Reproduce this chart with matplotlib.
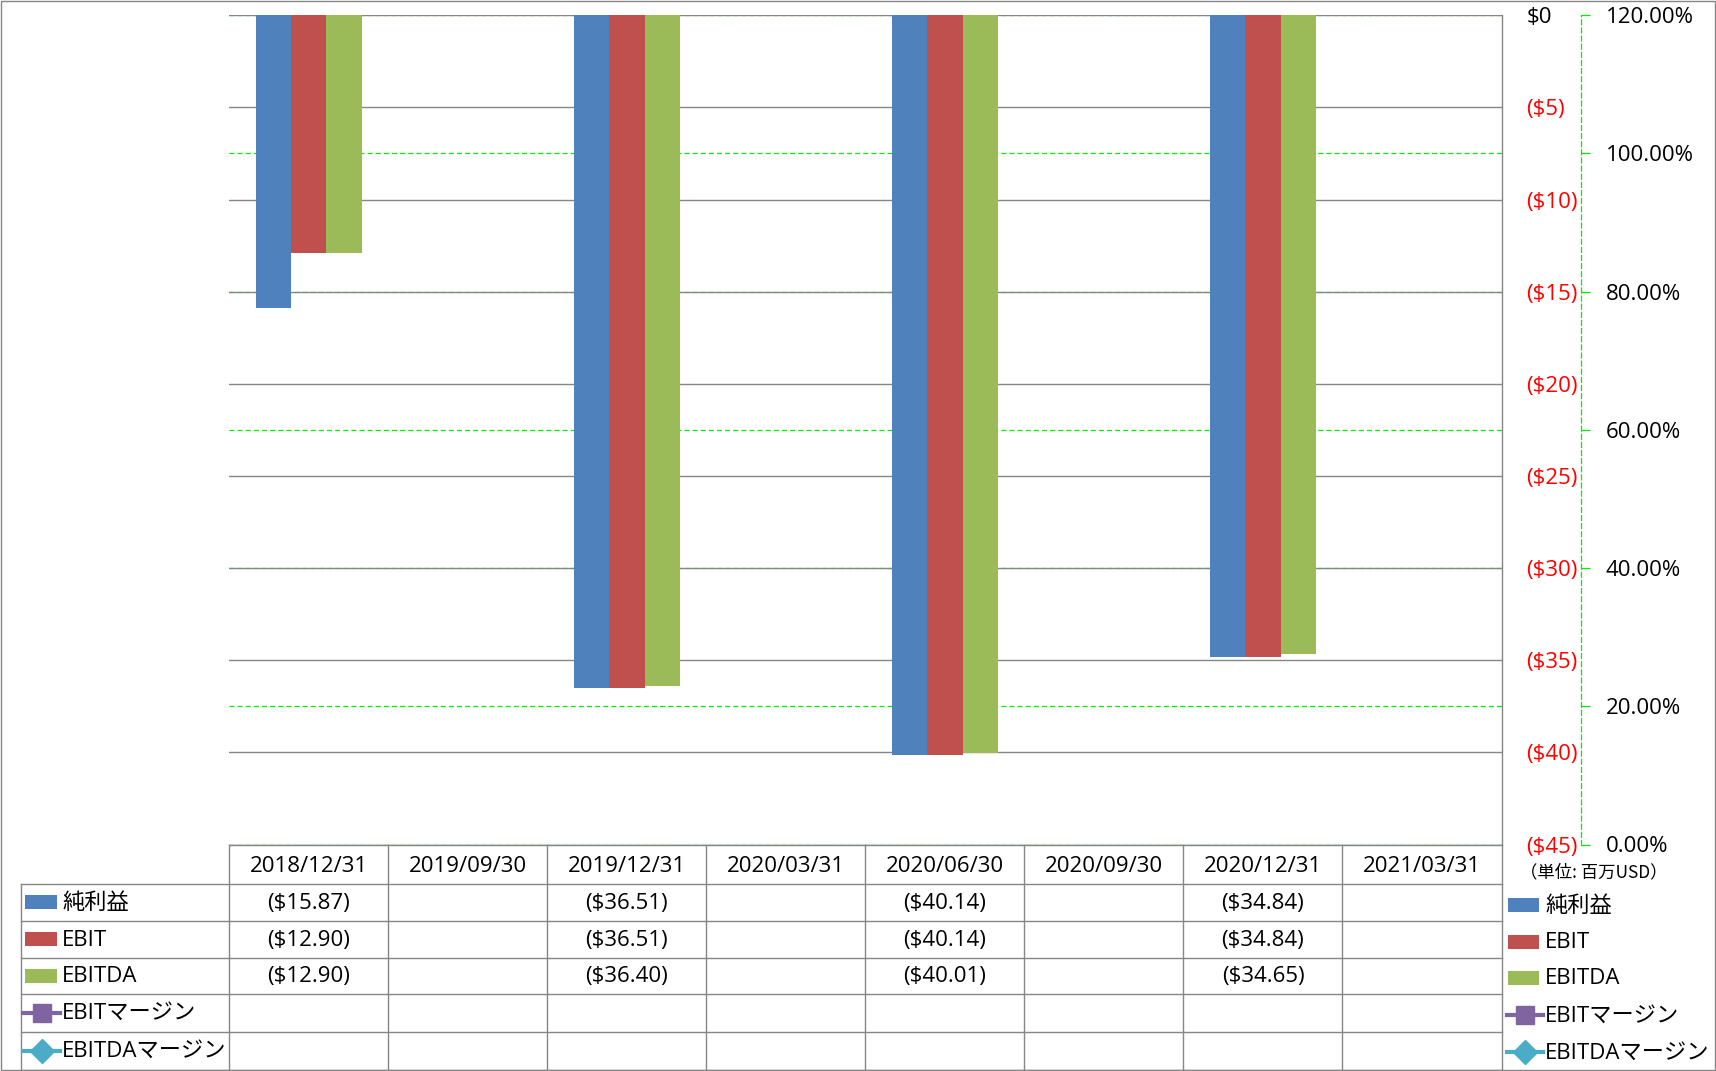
#純利益・EBIT・EBITDA の推移（データテーブル付き棒グラフ）

import numpy as np
import matplotlib
matplotlib.use('Agg')
import matplotlib.pyplot as plt
from matplotlib.patches import Rectangle
from matplotlib.lines import Line2D

plt.rcParams['font.family'] = ['Open Sans', 'Noto Sans CJK JP', 'DejaVu Sans']

#データ（単位: 百万USD）
periods = ['2018/12/31', '2019/09/30', '2019/12/31', '2020/03/31',
           '2020/06/30', '2020/09/30', '2020/12/31', '2021/03/31']
net_income = [-15.87, np.nan, -36.51, np.nan, -40.14, np.nan, -34.84, np.nan]
ebit = [-12.90, np.nan, -36.51, np.nan, -40.14, np.nan, -34.84, np.nan]
ebitda = [-12.90, np.nan, -36.40, np.nan, -40.01, np.nan, -34.65, np.nan]
ebit_margin = [np.nan] * 8
ebitda_margin = [np.nan] * 8

series_names = ['純利益', 'EBIT', 'EBITDA', 'EBITマージン', 'EBITDAマージン']
bar_colors = ['#4F81BD', '#C0504D', '#9BBB59']
line_colors = ['#8064A2', '#4BACC6']

y_ticks = list(range(0, -50, -5))
pct_ticks = [0.0, 0.2, 0.4, 0.6, 0.8, 1.0, 1.2]

#レイアウト（ピクセル）
W, H = 1716, 1071
px_l, px_r = 229.3, 1501.5
px_t, px_b = 15.3, 844.5
row_y = [844.5, 883.5, 921.0, 957.5, 993.5, 1031.5, 1070.0]
lab_x = 20.7
grey = '#868686'
green = '#00EE00'
fs = 16

fig = plt.figure(figsize=(W / 100, H / 100), dpi=100)
ax = fig.add_axes([px_l / W, (H - px_b) / H, (px_r - px_l) / W, (px_b - px_t) / H])
ax2 = ax.twinx()
ax.set_zorder(ax2.get_zorder() + 1)
ax.patch.set_visible(False)

x = np.arange(len(periods))
bw = 0.222
for k, vals in enumerate([net_income, ebit, ebitda]):
    ax.bar(x + (k - 1) * bw, vals, bw, color=bar_colors[k], zorder=3)
for k, vals in enumerate([ebit_margin, ebitda_margin]):
    ax2.plot(x, vals, color=line_colors[k])

ax.set_xlim(-0.5, len(periods) - 0.5)
ax.set_ylim(-45, 0)
ax.set_xticks([])
ax.set_axisbelow(True)
ax.grid(True, axis='y', color=grey, lw=1.0)
ax.yaxis.tick_right()
ax.set_yticks(y_ticks, labels=['$0' if v == 0 else '(${})'.format(-v) for v in y_ticks])
ax.tick_params(axis='y', length=0, pad=18, labelsize=fs)
for lbl in ax.get_yticklabels():
    lbl.set_color('red' if lbl.get_text().startswith('(') else 'black')
for s in ax.spines.values():
    s.set_visible(False)

ax2.set_ylim(0, 1.2)
ax2.set_yticks(pct_ticks, labels=['{:.2f}%'.format(p * 100) for p in pct_ticks])
ax2.grid(True, axis='y', color=green, lw=0.9, linestyle=(0, (4, 2.5)))
ax2.tick_params(axis='y', length=6.5, width=0.9, color=green, pad=11.5, labelsize=fs)
for s in ['top', 'left', 'bottom']:
    ax2.spines[s].set_visible(False)
ax2.spines['right'].set_position(('outward', 57))
ax2.spines['right'].set_color(green)
ax2.spines['right'].set_linestyle((0, (4, 2.5)))
ax2.spines['right'].set_linewidth(0.9)

#データテーブルと凡例
ov = fig.add_axes([0, 0, 1, 1])
ov.set_xlim(0, W)
ov.set_ylim(H, 0)
ov.axis('off')
ov.patch.set_visible(False)

cw = (px_r - px_l) / len(periods)
ov.plot([px_l, px_r], [row_y[0]] * 2, color=grey, lw=1)
for y in row_y[1:]:
    ov.plot([lab_x, px_r], [y, y], color=grey, lw=1)
ov.plot([lab_x, lab_x], [row_y[1], H], color=grey, lw=1)
for i in range(len(periods)):
    ov.plot([px_l + i * cw] * 2, [row_y[0], H], color=grey, lw=1)
ov.plot([px_r, px_r], [px_t, H], color=grey, lw=1)

for i, p in enumerate(periods):
    cx = px_l + (i + 0.5) * cw
    ov.text(cx, (row_y[0] + row_y[1]) / 2 + 2, p, ha='center', va='center', fontsize=fs)
    for r, vals in enumerate([net_income, ebit, ebitda]):
        v = vals[i]
        if not np.isnan(v):
            ov.text(cx, (row_y[r + 1] + row_y[r + 2]) / 2 + 1, '(${:.2f})'.format(-v),
                    ha='center', va='center', fontsize=fs)

def legend_key(x0, x1, yc, k):
    if k < 3:
        ov.add_patch(Rectangle((x0, yc - 7), x1 - x0, 14, color=bar_colors[k], lw=0))
    else:
        mk = 's' if k == 3 else 'D'
        ms = 13 if k == 3 else 12
        ov.add_line(Line2D([x0, x1], [yc, yc], color=line_colors[k - 3], lw=3))
        ov.plot((x0 + x1) / 2, yc, marker=mk, ms=ms, color=line_colors[k - 3], mec=line_colors[k - 3])

row_c = [(row_y[r + 1] + row_y[r + 2]) / 2 for r in range(5)]
legend_right_y = [905, 942, 978, 1015, 1052]
for k, name in enumerate(series_names):
    #左側（テーブル内）
    if k < 3:
        legend_key(25, 57, row_c[k], k)
    else:
        legend_key(23, 60, row_c[k], k)
    ov.text(62, row_c[k] + 1, name, ha='left', va='center', fontsize=16)
    #右側
    if k < 3:
        legend_key(1508, 1539, legend_right_y[k], k)
    else:
        legend_key(1507, 1543, legend_right_y[k], k)
    ov.text(1545, legend_right_y[k] + 1, name, ha='left', va='center', fontsize=16)

ov.text(1520, 872, '（単位: 百万USD）', ha='left', va='center', fontsize=12.5,
        family=['Noto Sans CJK JP'])

ov.add_patch(Rectangle((0.5, 0.5), W - 1.5, H - 1.5, fill=False, edgecolor=grey, lw=1))

fig.savefig('out.png', dpi=100)
